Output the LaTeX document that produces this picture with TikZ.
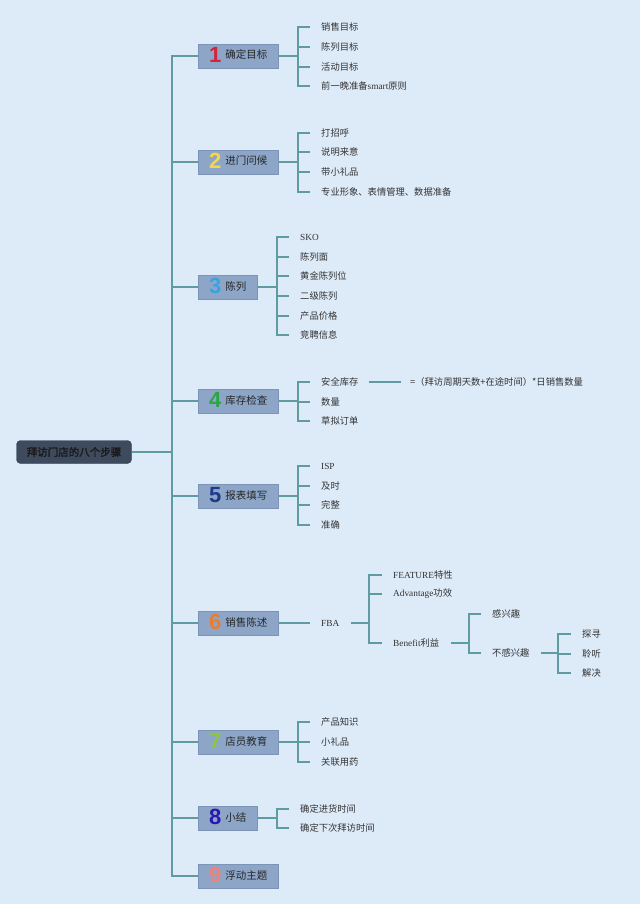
\documentclass[tikz,border=0pt]{standalone}
\usepackage{fontspec}
\setmainfont{Liberation Serif}
\newfontfamily\cjk{Noto Sans CJK SC}
\newfontfamily\cjkbold{Noto Sans CJK SC}[FakeBold=1.5]
\newfontfamily\digitfont{Liberation Sans}
\usetikzlibrary{positioning}

\definecolor{bgblue}{HTML}{DDEBF9}
\definecolor{linkteal}{HTML}{5F9CA2}
\definecolor{stepfill}{HTML}{8DA6C8}
\definecolor{stepedge}{HTML}{7B94B8}
\definecolor{rootfill}{HTML}{3E4A5E}
\definecolor{dig1}{HTML}{D2243A}
\definecolor{dig2}{HTML}{F6D64A}
\definecolor{dig3}{HTML}{3AA2DE}
\definecolor{dig4}{HTML}{2CA548}
\definecolor{dig5}{HTML}{1E3A8A}
\definecolor{dig6}{HTML}{EF7B2C}
\definecolor{dig7}{HTML}{8CC63F}
\definecolor{dig8}{HTML}{2B18B0}
\definecolor{dig9}{HTML}{F08078}

\newcommand\lat[1]{{\rmfamily #1}}
\newcommand\stepnum[2]{\raisebox{-3.5pt}{\digitfont\bfseries\fontsize{22}{22}\selectfont\color{#1}#2}\hspace{4pt}}

\tikzset{
  root/.style={draw=rootfill!85!black, fill=rootfill, rounded corners=4pt,
    minimum width=115pt, minimum height=23pt, text=black!90,
    font=\cjkbold\fontsize{10.5}{12}\selectfont},
  stepbox/.style={draw=stepedge, fill=stepfill, anchor=west, inner xsep=11pt,
    inner ysep=0pt, minimum height=24pt, text height=9pt, text depth=3pt,
    text=black!85, font=\cjk\fontsize{10.5}{12}\selectfont},
  leaf/.style={anchor=west, inner sep=0pt, text=black!80,
    font=\cjk\fontsize{9.3}{11}\selectfont},
  link/.style={draw=linkteal, line width=1.3pt}
}

\begin{document}
\begin{tikzpicture}[x=1pt,y=-1pt]
\fill[bgblue] (0,0) rectangle (640,904);
\useasboundingbox (0,0) rectangle (640,904);

% root and trunk
\node[root] (root) at (74,452) {拜访门店的八个步骤};
\coordinate (trunk) at (172,452);
\draw[link] (root) -- (trunk);

% the nine steps
\foreach \n/\y/\c/\t in {1/56/dig1/确定目标, 2/162/dig2/进门问候, 3/287/dig3/陈列,
    4/401/dig4/库存检查, 5/496/dig5/报表填写, 6/623/dig6/销售陈述,
    7/742/dig7/店员教育, 8/818/dig8/小结, 9/876/dig9/浮动主题}{
  \node[stepbox] (s\n) at (198,\y) {\stepnum{\c}{\n}\t};
  \draw[link] (trunk) |- (s\n.west);
}

% step 1
\coordinate (b1) at (298,56);
\draw[link] (s1) -- (b1);
\foreach \i/\y/\t in {1/27/销售目标, 2/47/陈列目标, 3/67/活动目标, 4/86/前一晚准备\lat{smart}原则}{
  \node[leaf] (l1\i) at (321,\y) {\t};
  \draw[link] (b1) |- ([xshift=-11pt]l1\i.west);
}

% step 2
\coordinate (b2) at (298,162);
\draw[link] (s2) -- (b2);
\foreach \i/\y/\t in {1/133/打招呼, 2/152/说明来意, 3/172/带小礼品, 4/192/专业形象、表情管理、数据准备}{
  \node[leaf] (l2\i) at (321,\y) {\t};
  \draw[link] (b2) |- ([xshift=-11pt]l2\i.west);
}

% step 3
\coordinate (b3) at (277,287);
\draw[link] (s3) -- (b3);
\foreach \i/\y/\t in {1/237/\lat{SKO}, 2/257/陈列面, 3/276/黄金陈列位, 4/296/二级陈列, 5/316/产品价格, 6/335/竞聘信息}{
  \node[leaf] (l3\i) at (300,\y) {\t};
  \draw[link] (b3) |- ([xshift=-11pt]l3\i.west);
}

% step 4
\coordinate (b4) at (298,401);
\draw[link] (s4) -- (b4);
\foreach \i/\y/\t in {1/382/安全库存, 2/402/数量, 3/421/草拟订单}{
  \node[leaf] (l4\i) at (321,\y) {\t};
  \draw[link] (b4) |- ([xshift=-11pt]l4\i.west);
}
\node[leaf] (f4) at (410,382) {=（拜访周期天数+在途时间）*日销售数量};
\draw[link] ([xshift=10pt]l41.east) -- ([xshift=-9pt]f4.west);

% step 5
\coordinate (b5) at (298,496);
\draw[link] (s5) -- (b5);
\foreach \i/\y/\t in {1/466/\lat{ISP}, 2/486/及时, 3/505/完整, 4/525/准确}{
  \node[leaf] (l5\i) at (321,\y) {\t};
  \draw[link] (b5) |- ([xshift=-11pt]l5\i.west);
}

% step 6
\node[leaf] (fba) at (321,623) {\lat{FBA}};
\draw[link] (s6) -- ([xshift=-11pt]fba.west);
\coordinate (b6) at (369,623);
\draw[link] ([xshift=12pt]fba.east) -- (b6);
\foreach \i/\y/\t in {1/575/\lat{FEATURE}特性, 2/594/\lat{Advantage}功效, 3/643/\lat{Benefit}利益}{
  \node[leaf] (l6\i) at (393,\y) {\t};
  \draw[link] (b6) |- ([xshift=-11pt]l6\i.west);
}
\coordinate (b63) at (469,643);
\draw[link] ([xshift=12pt]l63.east) -- (b63);
\foreach \i/\y/\t in {1/614/感兴趣, 2/653/不感兴趣}{
  \node[leaf] (l63\i) at (492,\y) {\t};
  \draw[link] (b63) |- ([xshift=-11pt]l63\i.west);
}
\coordinate (b632) at (558,653);
\draw[link] ([xshift=11pt]l632.east) -- (b632);
\foreach \i/\y/\t in {1/634/探寻, 2/654/聆听, 3/673/解决}{
  \node[leaf] (l632\i) at (582,\y) {\t};
  \draw[link] (b632) |- ([xshift=-11pt]l632\i.west);
}

% step 7
\coordinate (b7) at (298,742);
\draw[link] (s7) -- (b7);
\foreach \i/\y/\t in {1/722/产品知识, 2/742/小礼品, 3/762/关联用药}{
  \node[leaf] (l7\i) at (321,\y) {\t};
  \draw[link] (b7) |- ([xshift=-11pt]l7\i.west);
}

% step 8
\coordinate (b8) at (277,818);
\draw[link] (s8) -- (b8);
\foreach \i/\y/\t in {1/809/确定进货时间, 2/828/确定下次拜访时间}{
  \node[leaf] (l8\i) at (300,\y) {\t};
  \draw[link] (b8) |- ([xshift=-11pt]l8\i.west);
}
\end{tikzpicture}
\end{document}
